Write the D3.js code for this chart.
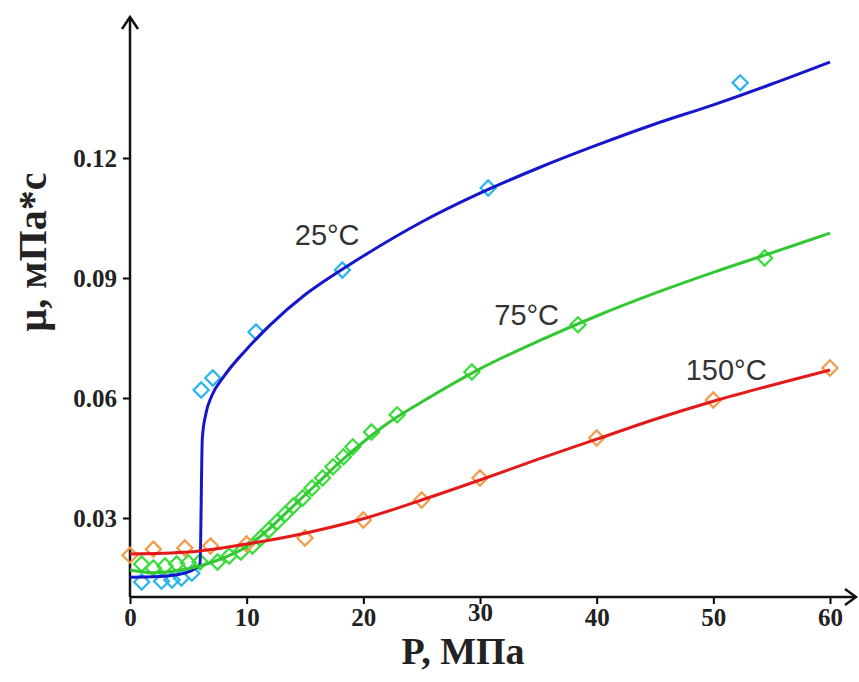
<!DOCTYPE html>
<html>
<head>
<meta charset="utf-8">
<script src="https://cdn.jsdelivr.net/npm/d3@7"></script>
<style>
  body { margin: 0; background: #fff; }
  .tick text { font-family: "Liberation Serif", "Times New Roman", serif; font-weight: bold; }
</style>
</head>
<body>
<div id="chart"></div>
<script>
// pressure values of the measured points, MPa
const p25 = [1.0, 2.7, 3.6, 4.4, 5.3, 6.1, 7.1, 10.8, 18.2, 30.7, 52.3];
const mu25 = [0.0140, 0.0142, 0.0145, 0.0150, 0.0162, 0.0620, 0.0650, 0.0765, 0.0920, 0.1125, 0.1388];

const p75 = [1.0, 2.0, 3.0, 4.0, 5.0, 6.0, 7.5, 8.5, 9.5, 10.5, 11.2, 11.9, 12.6, 13.3, 14.0, 14.8, 15.6, 16.5, 17.4, 18.3, 19.1, 20.7, 22.9, 29.3, 38.4, 54.4];
const mu75 = [0.0185, 0.0175, 0.0180, 0.0185, 0.0188, 0.0190, 0.0190, 0.0205, 0.0215, 0.0230, 0.0250, 0.0270, 0.0290, 0.0310, 0.0330, 0.0350, 0.0375, 0.0400, 0.0428, 0.0453, 0.0478, 0.0515, 0.0558, 0.0665, 0.0783, 0.0950];

const p150 = [0, 2, 4.7, 6.9, 10, 15, 20, 25, 30, 40, 50, 60];
const mu150 = [0.0207, 0.0222, 0.0225, 0.0230, 0.0235, 0.0250, 0.0295, 0.0345, 0.0400, 0.0500, 0.0595, 0.0675];

// fitted curves
const fitP25 = [0, 2, 4, 5.5, 6.0, 6.2, 6.5, 7, 8, 10, 12, 15, 18, 20, 25, 30, 35, 40, 45, 50, 55, 60];
const fitMu25 = [0.0152, 0.0153, 0.0158, 0.0172, 0.0185, 0.0500, 0.0560, 0.0605, 0.0652, 0.0722, 0.0782, 0.0858, 0.0918, 0.0955, 0.1040, 0.1112, 0.1175, 0.1232, 0.1285, 0.1333, 0.1385, 0.1440];

const fitP75 = [0, 2, 4, 6, 8, 10, 12, 14, 16, 18, 20, 22, 25, 30, 35, 40, 45, 50, 55, 60];
const fitMu75 = [0.0170, 0.0163, 0.0168, 0.0180, 0.0200, 0.0228, 0.0275, 0.0330, 0.0385, 0.0440, 0.0490, 0.0535, 0.0590, 0.0673, 0.0742, 0.0805, 0.0862, 0.0914, 0.0963, 0.1012];

const fitP150 = [0, 5, 10, 15, 20, 25, 30, 35, 40, 45, 50, 55, 60];
const fitMu150 = [0.0210, 0.0215, 0.0235, 0.0262, 0.0298, 0.0345, 0.0395, 0.0447, 0.0497, 0.0547, 0.0592, 0.0632, 0.0670];

const xTicks = [0, 10, 20, 30, 40, 50, 60];
const yTicks = [0.03, 0.06, 0.09, 0.12];

const series = [
    { name: "25°C", p: p25, mu: mu25, fp: fitP25, fmu: fitMu25, line: "#1616cc", mark: "#2ab4ee", lx: 16.9, ly: 0.0983 },
    { name: "75°C", p: p75, mu: mu75, fp: fitP75, fmu: fitMu75, line: "#33c733", mark: "#3ade3a", lx: 34.0, ly: 0.0783 },
    { name: "150°C", p: p150, mu: mu150, fp: fitP150, fmu: fitMu150, line: "#e41a1a", mark: "#f59a48", lx: 51.1, ly: 0.0645 }
];

const W = 859, H = 682;

const svg = d3.select("#chart")
    .append("svg")
    .attr("width", W)
    .attr("height", H);

const x = d3.scaleLinear().domain([0, 60]).range([130, 830]);
const y = d3.scaleLinear().domain([0.01025, 0.154]).range([597, 22]);

// x axis
const gx = svg.append("g")
    .attr("transform", `translate(0,${y(0.01025)})`)
    .call(d3.axisBottom(x).tickValues(xTicks).tickFormat(d3.format("d")).tickSize(7).tickPadding(4).tickSizeOuter(0));
gx.select(".domain").remove();
gx.selectAll(".tick line").attr("stroke-width", 2);
gx.selectAll(".tick text")
    .attr("font-size", 25)
    .attr("fill", "#222")
    .attr("dy", d => d === 30 ? "0.52em" : "0.71em");

// y axis
const gy = svg.append("g")
    .attr("transform", `translate(${x(0)},0)`)
    .call(d3.axisLeft(y).tickValues(yTicks).tickFormat(d3.format(".2f")).tickSize(7).tickPadding(6).tickSizeOuter(0));
gy.select(".domain").remove();
gy.selectAll(".tick line").attr("stroke-width", 2);
gy.selectAll(".tick text").attr("font-size", 25).attr("fill", "#222");

// axis lines with arrows
svg.append("line")
    .attr("x1", x(0)).attr("y1", y(0.01025))
    .attr("x2", 855).attr("y2", y(0.01025))
    .attr("stroke", "#111").attr("stroke-width", 2.5);
svg.append("path")
    .attr("d", `M845,${y(0.01025) - 8}L856,${y(0.01025)}L845,${y(0.01025) + 8}`)
    .attr("fill", "none").attr("stroke", "#111").attr("stroke-width", 2.5);
svg.append("line")
    .attr("x1", x(0)).attr("y1", y(0.01025))
    .attr("x2", x(0)).attr("y2", 18)
    .attr("stroke", "#111").attr("stroke-width", 2.5);
svg.append("path")
    .attr("d", `M${x(0) - 8},29L${x(0)},17L${x(0) + 8},29`)
    .attr("fill", "none").attr("stroke", "#111").attr("stroke-width", 2.5);

// axis titles
svg.append("text")
    .attr("x", 463).attr("y", 664)
    .attr("text-anchor", "middle")
    .attr("font-family", "Liberation Serif, Times New Roman, serif")
    .attr("font-weight", "bold")
    .attr("font-size", 38)
    .attr("fill", "#222")
    .text("P, МПа");

svg.append("text")
    .attr("transform", "translate(46,252) rotate(-90)")
    .attr("text-anchor", "middle")
    .attr("font-family", "Liberation Serif, Times New Roman, serif")
    .attr("font-weight", "bold")
    .attr("font-size", 40)
    .attr("fill", "#222")
    .text("μ,  мПа*с");

const line = d3.line()
    .x(d => x(d[0]))
    .y(d => y(d[1]))
    .curve(d3.curveMonotoneX);

const diamond = d3.symbol().type(d3.symbolSquare).size(115);

series.forEach(s => {
    const pts = s.p.map((v, i) => [v, s.mu[i]]);
    svg.append("g")
        .selectAll("path")
        .data(pts)
        .enter().append("path")
        .attr("d", diamond)
        .attr("transform", d => `translate(${x(d[0])},${y(d[1])}) rotate(45)`)
        .attr("fill", "none")
        .attr("stroke", s.mark)
        .attr("stroke-width", 2.2);
});

series.forEach(s => {
    const fit = s.fp.map((v, i) => [v, s.fmu[i]]);
    svg.append("path")
        .datum(fit)
        .attr("d", line)
        .attr("fill", "none")
        .attr("stroke", s.line)
        .attr("stroke-width", 3);
});

// curve labels
series.forEach(s => {
    svg.append("text")
        .attr("x", x(s.lx)).attr("y", y(s.ly))
        .attr("text-anchor", "middle")
        .attr("font-family", "Liberation Sans, Arial, sans-serif")
        .attr("font-size", 29)
        .attr("fill", "#333")
        .text(s.name);
});
</script>
</body>
</html>
